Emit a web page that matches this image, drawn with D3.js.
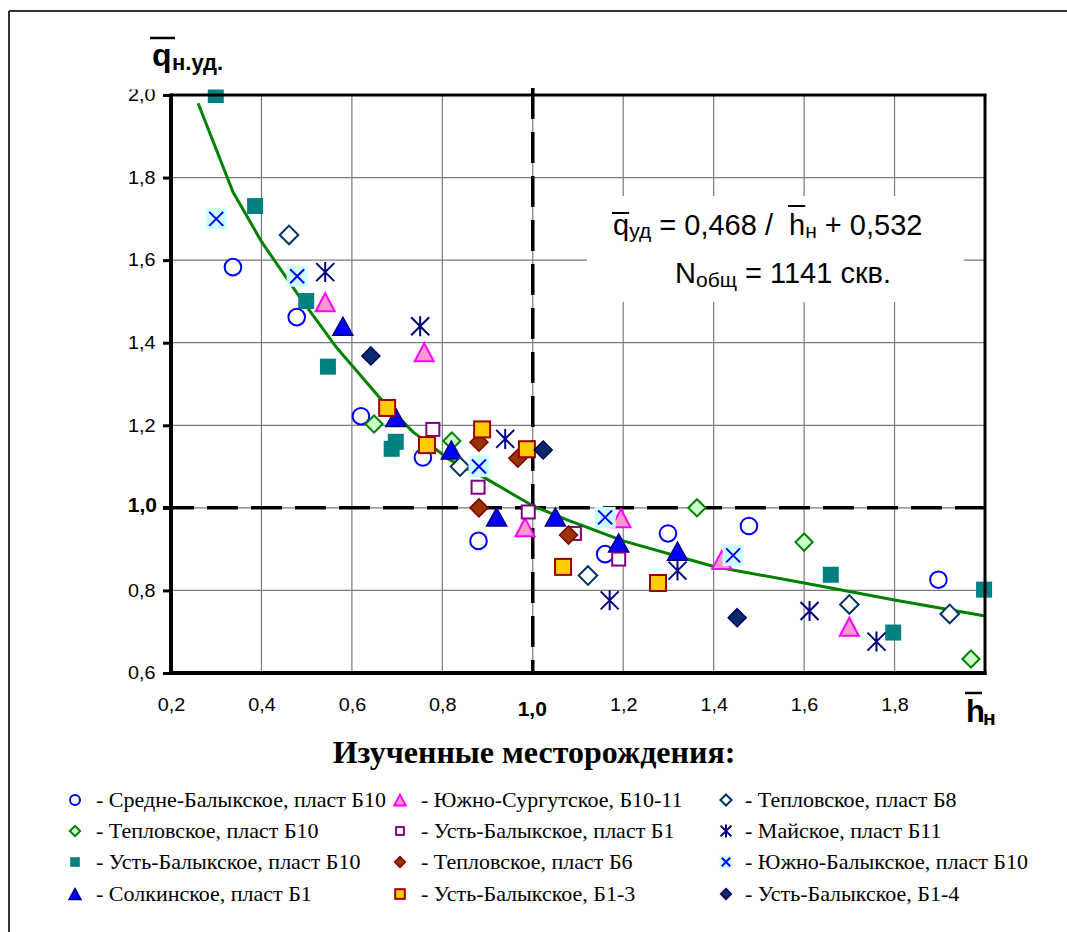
<!DOCTYPE html>
<html><head><meta charset="utf-8">
<script src="https://cdn.jsdelivr.net/npm/d3@7"></script>
<style>body{margin:0;background:#fff} svg{display:block}</style>
</head><body>
<svg id="chart" width="1067" height="932"></svg>
<script>
// ---------- data ----------
const xTicks = [0.2, 0.4, 0.6, 0.8, 1.0, 1.2, 1.4, 1.6, 1.8];
const yTicks = [0.6, 0.8, 1.0, 1.2, 1.4, 1.6, 1.8, 2.0];
const gridX = [0.4, 0.6, 0.8, 1.0, 1.2, 1.4, 1.6, 1.8];
const gridY = [0.8, 1.0, 1.2, 1.4, 1.6, 1.8];

const sredneBalykB10 = [[0.337,1.583],[0.478,1.462],[0.62,1.222],[0.757,1.122],[0.88,0.92],[1.16,0.888],[1.299,0.938],[1.478,0.956],[1.897,0.826]];
const teplovB10 = [[0.649,1.203],[0.821,1.162],[1.363,1.0],[1.6,0.917],[1.969,0.634]];
const ustBalykB10 = [[0.299,2.0],[0.386,1.731],[0.499,1.501],[0.547,1.342],[0.688,1.143],[0.697,1.16],[1.659,0.838],[1.797,0.698],[1.998,0.802]];
const solkinB1 = [[0.58,1.44],[0.697,1.219],[0.82,1.14],[0.92,0.978],[1.05,0.978],[1.19,0.915],[1.32,0.895]];
const yuzhSurgB1011 = [[0.541,1.498],[0.76,1.377],[0.983,0.953],[1.195,0.975],[1.418,0.874],[1.70,0.712]];
const ustBalykB1 = [[0.779,1.19],[0.879,1.05],[0.99,0.99],[1.092,0.938],[1.19,0.876]];
const teplovB6 = [[0.881,1.159],[0.967,1.12],[0.881,1.0],[1.079,0.934]];
const ustBalykB13 = [[0.678,1.242],[0.766,1.152],[0.888,1.19],[0.987,1.142],[1.067,0.857],[1.277,0.818]];
const teplovB8 = [[0.461,1.661],[0.839,1.10],[1.122,0.836],[1.70,0.766],[1.922,0.743]];
const maiskB11 = [[0.541,1.571],[0.751,1.44],[0.939,1.167],[1.17,0.776],[1.32,0.848],[1.612,0.75],[1.76,0.676]];
const yuzhBalykB10 = [[0.30,1.70],[0.479,1.561],[0.881,1.10],[1.16,0.977],[1.443,0.885]];
const ustBalykB14 = [[0.642,1.368],[1.023,1.14],[1.452,0.734]];

const fitCurve = [[0.26,1.98],[0.337,1.765],[0.40,1.645],[0.485,1.51],[0.567,1.387],[0.662,1.266],[0.735,1.184],[0.817,1.116],[0.89,1.075],[1.0,1.005],[1.073,0.972],[1.2,0.92],[1.4,0.858],[1.6,0.818],[1.8,0.777],[2.0,0.738]];

const seriesNames = [
  "- Средне-Балыкское, пласт Б10",
  "- Тепловское, пласт Б10",
  "- Усть-Балыкское, пласт Б10",
  "- Солкинское, пласт Б1",
  "- Южно-Сургутское, Б10-11",
  "- Усть-Балыкское, пласт Б1",
  "- Тепловское, пласт Б6",
  "- Усть-Балыкское, Б1-3",
  "- Тепловское, пласт Б8",
  "- Майское, пласт Б11",
  "- Южно-Балыкское, пласт Б10",
  "- Усть-Балыкское, Б1-4"
];
const seriesData = [sredneBalykB10, teplovB10, ustBalykB10, solkinB1, yuzhSurgB1011, ustBalykB1, teplovB6, ustBalykB13, teplovB8, maiskB11, yuzhBalykB10, ustBalykB14];
const legendTitle = "Изученные месторождения:";

// ---------- styles ----------
const markerTypes = ["circle","diamondGreen","squareTeal","triBlue","triPink","squarePurple","diamondBrown","squareGold","diamondOpen","asterisk","cross","diamondNavy"];
const SANS = "'Liberation Sans', Arial, sans-serif";
const SERIF = "'Liberation Serif', 'Times New Roman', serif";

const svg = d3.select("#chart");
const x = d3.scaleLinear().domain([0.2, 2.0]).range([171, 985]);
const y = d3.scaleLinear().domain([0.6, 2.0]).range([673, 95]);
const fmt = d => d3.format(".1f")(d).replace(".", ",");

// outer frame
svg.append("line").attr("x1",9).attr("y1",11).attr("x2",1067).attr("y2",11).attr("stroke","#333").attr("stroke-width",2);
svg.append("line").attr("x1",9).attr("y1",11).attr("x2",9).attr("y2",932).attr("stroke","#333").attr("stroke-width",2);

// grid
svg.append("g").selectAll("line").data(gridX).join("line")
  .attr("x1", d => x(d)).attr("x2", d => x(d)).attr("y1", y(2.0)).attr("y2", y(0.6))
  .attr("stroke", "#7a7a7a").attr("stroke-width", 1.2);
svg.append("g").selectAll("line").data(gridY).join("line")
  .attr("y1", d => y(d)).attr("y2", d => y(d)).attr("x1", x(0.2)).attr("x2", x(2.0))
  .attr("stroke", "#7a7a7a").attr("stroke-width", 1.2);

// equation box
svg.append("rect").attr("x",587).attr("y",196).attr("width",377).attr("height",106).attr("fill","#fff");

// dashed reference lines
svg.append("line").attr("x1", x(0.2) - 8).attr("x2", x(2.0)).attr("y1", y(1.0)).attr("y2", y(1.0))
  .attr("stroke","#000").attr("stroke-width",3.5).attr("stroke-dasharray","31,13");
svg.append("line").attr("x1", x(1.0)).attr("x2", x(1.0)).attr("y1", y(2.0) - 7).attr("y2", y(0.6))
  .attr("stroke","#000").attr("stroke-width",3.5).attr("stroke-dasharray","31,13");

// fit curve
svg.append("path").datum(fitCurve)
  .attr("d", d3.line().x(d => x(d[0])).y(d => y(d[1])))
  .attr("fill","none").attr("stroke","#008000").attr("stroke-width",3).attr("stroke-linejoin","round");

// markers
function drawMarker(g, type, s) {
  const tri = (w, h) => `M0,${-h/2}L${w/2},${h/2}L${-w/2},${h/2}Z`;
  const dia = r => `M0,${-r}L${r},0L0,${r}L${-r},0Z`;
  switch (type) {
    case "circle":
      g.append("circle").attr("r", 8.3*s).attr("fill","#fff").attr("stroke","#0000FF").attr("stroke-width",2); break;
    case "diamondGreen":
      g.append("path").attr("d", dia(8.6*s)).attr("fill","#CCFFCC").attr("stroke","#008000").attr("stroke-width",2); break;
    case "squareTeal":
      g.append("rect").attr("x",-8*s).attr("y",-8*s).attr("width",16*s).attr("height",16*s).attr("fill","#008080"); break;
    case "triBlue":
      g.append("path").attr("d", tri(20*s, 18*s)).attr("fill","#0000FF").attr("stroke","#000080").attr("stroke-width",1.5); break;
    case "triPink":
      g.append("path").attr("d", tri(19*s, 18*s)).attr("fill","#FF99CC").attr("stroke","#FF00FF").attr("stroke-width",2); break;
    case "squarePurple":
      g.append("rect").attr("x",-6.5*s).attr("y",-6.5*s).attr("width",13*s).attr("height",13*s).attr("fill","#fff").attr("stroke","#800080").attr("stroke-width",2); break;
    case "diamondBrown":
      g.append("path").attr("d", dia(9*s)).attr("fill","#993300").attr("stroke","#800000").attr("stroke-width",1.5); break;
    case "squareGold":
      g.append("rect").attr("x",-8*s).attr("y",-8*s).attr("width",16*s).attr("height",16*s).attr("fill","#FFCC00").attr("stroke","#990000").attr("stroke-width",2); break;
    case "diamondOpen":
      g.append("path").attr("d", dia(9.3*s)).attr("fill","#fff").attr("stroke","#003366").attr("stroke-width",2); break;
    case "asterisk": {
      const r = 9*s;
      g.append("path").attr("d", `M0,${-r-1}V${r+1}M${-r},${-r}L${r},${r}M${r},${-r}L${-r},${r}`)
        .attr("stroke","#000080").attr("stroke-width",2).attr("fill","none"); break;
    }
    case "cross": {
      const b = 10.5*s, r = 7*s;
      g.append("rect").attr("x",-b).attr("y",-b).attr("width",2*b).attr("height",2*b).attr("fill","#CCFFFF");
      g.append("path").attr("d", `M${-r},${-r}L${r},${r}M${r},${-r}L${-r},${r}`)
        .attr("stroke","#0000FF").attr("stroke-width",2).attr("fill","none"); break;
    }
    case "diamondNavy":
      g.append("path").attr("d", dia(9*s)).attr("fill","#0A2A6A").attr("stroke","#000060").attr("stroke-width",1.5); break;
  }
}

seriesData.forEach((data, i) => {
  const g = svg.append("g");
  g.selectAll("g").data(data).join("g")
    .attr("transform", d => `translate(${x(d[0])},${y(d[1])})`)
    .each(function () { drawMarker(d3.select(this), markerTypes[i], 1); });
});

// frame: top & right border, axes
svg.append("line").attr("x1", x(0.2)).attr("x2", x(2.0)+1.5).attr("y1", y(2.0)).attr("y2", y(2.0)).attr("stroke","#000").attr("stroke-width",3);
svg.append("line").attr("x1", x(2.0)).attr("x2", x(2.0)).attr("y1", y(2.0)).attr("y2", y(0.6)+2).attr("stroke","#000").attr("stroke-width",3);

const gy = svg.append("g").attr("transform", `translate(${x(0.2)},0)`)
  .call(d3.axisLeft(y).tickValues(yTicks).tickSize(8).tickPadding(6).tickFormat(fmt));
gy.select(".domain").remove();
gy.selectAll(".tick line").attr("stroke","#000").attr("stroke-width",3);
gy.selectAll(".tick text").attr("font-family", SANS).attr("font-size", 18).attr("fill","#000")
  .attr("transform","scale(1.1,1)");
gy.selectAll(".tick text").filter(d => d === 1.0)
  .attr("font-weight","bold").attr("font-size",21).attr("transform",null).attr("x",-14).attr("dy",4);

const gx = svg.append("g").attr("transform", `translate(0,${y(0.6)})`)
  .call(d3.axisBottom(x).tickValues(xTicks).tickSize(0).tickPadding(0).tickFormat(fmt));
gx.select(".domain").remove();
gx.selectAll(".tick text").attr("font-family", SANS).attr("font-size", 18).attr("fill","#000")
  .attr("y", 38).attr("dy", 0).attr("transform","scale(1.1,1)");
gx.selectAll(".tick text").filter(d => d === 1.0)
  .attr("font-weight","bold").attr("font-size",21).attr("transform",null).attr("y",43).attr("x",-1);

svg.append("line").attr("x1", x(0.2)).attr("x2", x(0.2)).attr("y1", y(2.0)-1.5).attr("y2", y(0.6)+2).attr("stroke","#000").attr("stroke-width",4);
svg.append("line").attr("x1", x(0.2)-2).attr("x2", x(2.0)+1.5).attr("y1", y(0.6)).attr("y2", y(0.6)).attr("stroke","#000").attr("stroke-width",4);

// y-axis title box (clips top of "2,0")
svg.append("rect").attr("x",118).attr("y",25).attr("width",120).attr("height",64.5).attr("fill","#fff");
svg.append("line").attr("x1",150).attr("x2",175).attr("y1",38).attr("y2",38).attr("stroke","#000").attr("stroke-width",2.5);
svg.append("text").attr("x",152).attr("y",66).attr("font-family",SANS).attr("font-weight","bold").attr("font-size",32).text("q");
svg.append("text").attr("x",172).attr("y",70).attr("font-family",SANS).attr("font-weight","bold").attr("font-size",22).text("н.уд.");

// x-axis title
svg.append("line").attr("x1",965).attr("x2",982).attr("y1",693).attr("y2",693).attr("stroke","#000").attr("stroke-width",2.5);
svg.append("text").attr("x",966).attr("y",722).attr("font-family",SANS).attr("font-weight","bold").attr("font-size",31).text("h");
svg.append("text").attr("x",983).attr("y",725).attr("font-family",SANS).attr("font-weight","bold").attr("font-size",21).text("н");

// equation
function richLine(x0, baseline, pieces) {
  let cx = x0;
  pieces.forEach(p => {
    const t = svg.append("text").attr("x", cx).attr("y", baseline + (p.dy || 0))
      .attr("font-family", SANS).attr("font-size", p.size).attr("fill","#000")
      .text(p.t.replace(/ /g, "\u00A0"));
    const w = t.node().getComputedTextLength();
    if (p.bar) svg.append("line").attr("x1", cx - 1).attr("x2", cx + w).attr("y1", p.bar).attr("y2", p.bar)
      .attr("stroke","#000").attr("stroke-width",2);
    cx += w;
  });
}
richLine(613, 235, [
  {t:"q", size:29, bar:213},
  {t:"уд", size:21, dy:3},
  {t:" = 0,468 /  ", size:29},
  {t:"h", size:29, bar:206},
  {t:"н", size:21, dy:3},
  {t:" + 0,532", size:29}
]);
richLine(675, 283, [
  {t:"N", size:29},
  {t:"общ", size:21, dy:4},
  {t:" = 1141 скв.", size:29}
]);

// legend
svg.append("text").attr("x",534).attr("y",763).attr("text-anchor","middle")
  .attr("font-family",SERIF).attr("font-weight","bold").attr("font-size",32).text(legendTitle);
const colMarkerX = [75, 400, 726];
const colTextX = [96, 421, 745];
const rowBase = [807, 838, 869, 901];
seriesNames.forEach((name, i) => {
  const col = Math.floor(i / 4), row = i % 4;
  const g = svg.append("g").attr("transform", `translate(${colMarkerX[col]},${rowBase[row] - 7})`);
  drawMarker(g, markerTypes[i], 0.6);
  svg.append("text").attr("x", colTextX[col]).attr("y", rowBase[row])
    .attr("font-family", SERIF).attr("font-size", 22).attr("fill","#000").text(name);
});
</script>
</body></html>
